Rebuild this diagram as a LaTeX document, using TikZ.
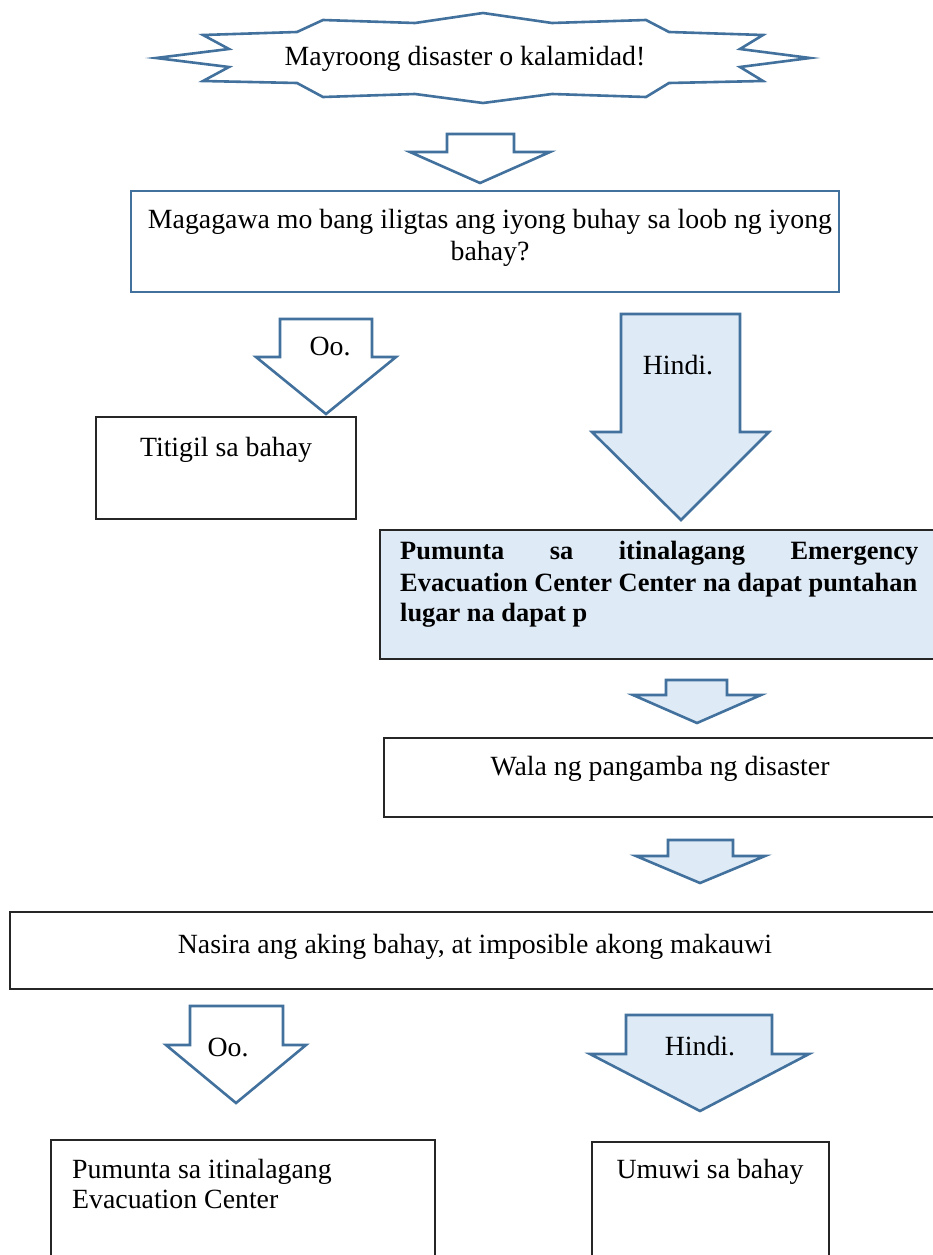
\documentclass[tikz,border=0pt]{standalone}
\usepackage{fontspec}
\setmainfont{Liberation Serif}
\definecolor{ablue}{HTML}{41719C}
\definecolor{lfill}{HTML}{DEEAF6}
\tikzset{
  bluel/.style={draw=ablue, line width=2.6pt, line join=miter},
  arrowwhite/.style={bluel, fill=white},
  arrowfill/.style={bluel, fill=lfill},
  boxblack/.style={draw=black!85, line width=1.3pt},
  txt/.style={font=\fontsize{27.8}{31}\selectfont, inner sep=0pt, anchor=base},
  btxt/.style={font=\fontsize{26.4}{31}\selectfont\bfseries, inner sep=0pt, anchor=base west},
}
\begin{document}
\begin{tikzpicture}[x=1pt,y=-1pt]
\useasboundingbox (0,0) rectangle (933,1255);
\fill[white] (0,0) rectangle (933,1255);
\clip (0,0) rectangle (933,1255);
% star
\draw[bluel, fill=white] (483,13) -- (552,23) -- (646,20) -- (669,32) -- (763,35) -- (740,49) -- (810,58) -- (740,67) -- (763,81) -- (669,83) -- (646,97) -- (552,94) -- (483,103) -- (415,94) -- (323,97) -- (297,83) -- (203,81) -- (229,67) -- (156,58) -- (229,49) -- (203,35) -- (297,32) -- (323,20) -- (415,23) -- cycle;
\node[txt] (start) at (465,66) {Mayroong disaster o kalamidad!};
% arrow 1
\draw[arrowwhite] (447,134) -- (514,134) -- (514,152) -- (550,152) -- (480,183) -- (410,152) -- (447,152) -- cycle;
% box 1
\draw[bluel] (131,191) rectangle (839,292);
\node[txt] (q1a) at (490,228) {Magagawa mo bang iligtas ang iyong buhay sa loob ng iyong};
\node[txt] (q1b) at (490,260) {bahay?};
% Oo arrow
\draw[arrowwhite] (280,319) -- (372,319) -- (372,357) -- (396,357) -- (326,414) -- (256,357) -- (280,357) -- cycle;
\node[txt] (oo1) at (330,355) {Oo.};
% Hindi arrow
\draw[arrowfill] (621,314) -- (740,314) -- (740,432) -- (769,432) -- (681,520) -- (592,432) -- (621,432) -- cycle;
\node[txt] (hindi1) at (678,374) {Hindi.};
% Titigil box
\draw[boxblack] (96,417) rectangle (356,519);
\node[txt] (stay) at (226,456) {Titigil sa bahay};
% bold box
\draw[boxblack, fill=lfill] (380,530) rectangle (945,659);
\node[btxt] (go1) at (400,559) {\makebox[518pt][s]{Pumunta sa itinalagang Emergency}};
\node[btxt] (go2) at (400,591) {Evacuation Center Center na dapat puntahan};
\node[btxt] (go3) at (400,621) {lugar na dapat p};
% arrow 2
\draw[arrowfill] (666,680) -- (727,680) -- (727,695) -- (761,695) -- (697,723) -- (633,695) -- (666,695) -- cycle;
% Wala box
\draw[boxblack] (384,738) rectangle (945,817);
\node[txt] (wala) at (660,775) {Wala ng pangamba ng disaster};
% arrow 3
\draw[arrowfill] (668,840) -- (733,840) -- (733,856) -- (765,856) -- (700,883) -- (636,856) -- (668,856) -- cycle;
% Nasira box
\draw[boxblack] (10,912) rectangle (945,989);
\node[txt] (nasira) at (475,953) {Nasira ang aking bahay, at imposible akong makauwi};
% bottom Oo arrow
\draw[arrowwhite] (190,1006) -- (283,1006) -- (283,1045) -- (306,1045) -- (236,1103) -- (166,1045) -- (190,1045) -- cycle;
\node[txt] (oo2) at (228,1056) {Oo.};
% bottom Hindi arrow
\draw[arrowfill] (626,1015) -- (772,1015) -- (772,1054) -- (809,1054) -- (700,1111) -- (590,1054) -- (626,1054) -- cycle;
\node[txt] (hindi2) at (700,1055) {Hindi.};
% bottom boxes
\draw[boxblack] (51,1140) rectangle (435,1275);
\node[txt, anchor=base west] (evac1) at (72,1178) {Pumunta sa itinalagang};
\node[txt, anchor=base west] (evac2) at (72,1208) {Evacuation Center};
\draw[boxblack] (592,1142) rectangle (829,1275);
\node[txt] (home) at (710,1178) {Umuwi sa bahay};
\end{tikzpicture}
\end{document}
